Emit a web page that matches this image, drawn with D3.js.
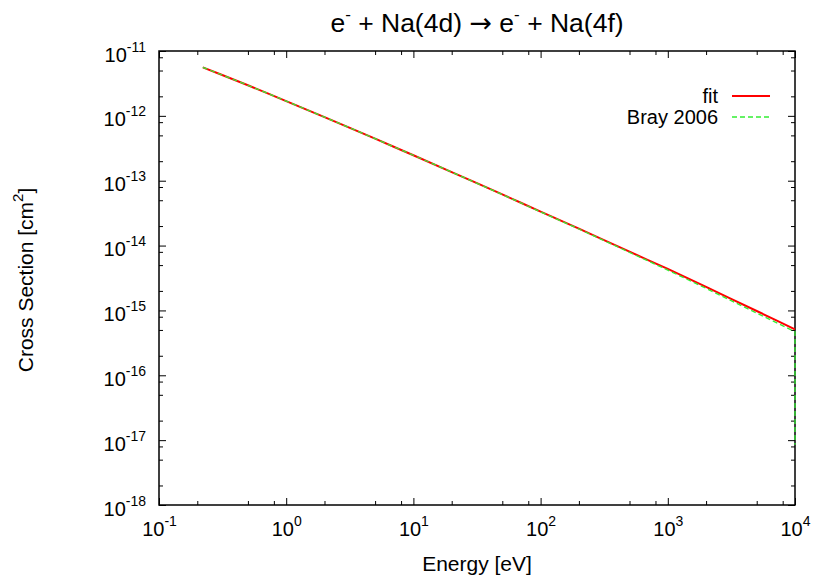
<!DOCTYPE html>
<html>
<head>
<meta charset="utf-8">
<script src="https://cdn.jsdelivr.net/npm/d3@7/dist/d3.min.js"></script>
<style>
  html, body { margin: 0; padding: 0; background: #fff; }
  svg { display: block; }
  text { font-family: "Liberation Sans", Arial, Helvetica, sans-serif; fill: #000; }
</style>
</head>
<body>
<svg id="chart" width="814" height="578"></svg>
<script>
// Electron-impact excitation Na(4d) -> Na(4f): analytic fit vs. Bray 2006 data
const fitEnergy = [0.221, 0.3, 0.5, 0.7, 1, 2, 3, 5, 7, 10, 20, 30, 50, 70, 100,
                   200, 300, 500, 700, 1000, 2000, 3000, 5000, 7000, 10000];
const fitCS = [5.6e-12, 4.42e-12, 2.96e-12, 2.26e-12, 1.69e-12, 9.58e-13, 6.83e-13,
               4.45e-13, 3.34e-13, 2.47e-13, 1.36e-13, 9.57e-14, 6.14e-14, 4.57e-14,
               3.34e-14, 1.82e-14, 1.27e-14, 8.05e-15, 5.98e-15, 4.36e-15, 2.31e-15,
               1.58e-15, 9.8e-16, 7.15e-16, 5.1e-16];

const brayEnergy = [0.221, 0.3, 0.5, 0.7, 1, 2, 3, 5, 7, 10, 20, 30, 50, 70, 100,
                    200, 300, 500, 700, 1000, 2000, 3000, 5000, 7000, 10000, 10000];
const brayCS = [5.6e-12, 4.42e-12, 2.96e-12, 2.26e-12, 1.69e-12, 9.58e-13, 6.83e-13,
                4.45e-13, 3.34e-13, 2.47e-13, 1.36e-13, 9.55e-14, 6.12e-14, 4.54e-14,
                3.31e-14, 1.80e-14, 1.25e-14, 7.85e-15, 5.80e-15, 4.18e-15, 2.19e-15,
                1.48e-15, 9.1e-16, 6.6e-16, 4.7e-16, 8.5e-18];

const xDecades = [-1, 0, 1, 2, 3, 4];
const yDecades = [-18, -17, -16, -15, -14, -13, -12, -11];
const minorSteps = [2, 5, 8];

const xLabel = "Energy [eV]";
const yLabel = "Cross Section [cm";

const svg = d3.select("#chart");
const margin = { left: 159, right: 795, top: 51, bottom: 505 };

const x = d3.scaleLog().domain([1e-1, 1e4]).range([margin.left, margin.right]);
const y = d3.scaleLog().domain([1e-18, 1e-11]).range([margin.bottom, margin.top]);

const xMajor = xDecades.map(d => Math.pow(10, d));
const yMajor = yDecades.map(d => Math.pow(10, d));
const minorOf = decs => decs.slice(0, -1).flatMap(d => minorSteps.map(m => m * Math.pow(10, d)));
const xMinor = minorOf(xDecades);
const yMinor = minorOf(yDecades);

function styleTicks(g) {
  g.select(".domain").remove();
  g.selectAll(".tick line").attr("stroke", "#000").attr("stroke-width", 1);
}

// major + minor ticks on all four sides, all pointing inward
const axes = svg.append("g");
const bottomMajor = axes.append("g").attr("transform", `translate(0,${margin.bottom})`)
  .call(d3.axisBottom(x).tickValues(xMajor).tickSize(-7).tickSizeOuter(0));
axes.append("g").attr("transform", `translate(0,${margin.bottom})`)
  .call(d3.axisBottom(x).tickValues(xMinor).tickSize(-4).tickFormat("")).call(styleTicks);
axes.append("g").attr("transform", `translate(0,${margin.top})`)
  .call(d3.axisTop(x).tickValues(xMajor).tickSize(-7).tickFormat("")).call(styleTicks);
axes.append("g").attr("transform", `translate(0,${margin.top})`)
  .call(d3.axisTop(x).tickValues(xMinor).tickSize(-4).tickFormat("")).call(styleTicks);

const leftMajor = axes.append("g").attr("transform", `translate(${margin.left},0)`)
  .call(d3.axisLeft(y).tickValues(yMajor).tickSize(-7).tickSizeOuter(0));
axes.append("g").attr("transform", `translate(${margin.left},0)`)
  .call(d3.axisLeft(y).tickValues(yMinor).tickSize(-4).tickFormat("")).call(styleTicks);
axes.append("g").attr("transform", `translate(${margin.right},0)`)
  .call(d3.axisRight(y).tickValues(yMajor).tickSize(-7).tickFormat("")).call(styleTicks);
axes.append("g").attr("transform", `translate(${margin.right},0)`)
  .call(d3.axisRight(y).tickValues(yMinor).tickSize(-4).tickFormat("")).call(styleTicks);

bottomMajor.call(styleTicks);
leftMajor.call(styleTicks);

// power-of-ten tick labels with superscript exponents
function powerLabel(textSel, exps) {
  textSel.each(function (d, i) {
    const t = d3.select(this).text(null)
      .attr("font-size", 20).attr("fill", "#000");
    t.append("tspan").text("10");
    t.append("tspan").attr("font-size", 14).attr("dy", -10).text(exps[i]);
  });
}
bottomMajor.selectAll(".tick text")
  .attr("y", 31).attr("dy", null).attr("text-anchor", "middle")
  .call(powerLabel, xDecades);
leftMajor.selectAll(".tick text")
  .attr("x", -13).attr("y", 10).attr("dy", null).attr("text-anchor", "end")
  .call(powerLabel, yDecades);

// plot border
svg.append("rect")
  .attr("x", margin.left).attr("y", margin.top)
  .attr("width", margin.right - margin.left).attr("height", margin.bottom - margin.top)
  .attr("fill", "none").attr("stroke", "#000").attr("stroke-width", 1.5);

// curves
svg.append("clipPath").attr("id", "plotClip").append("rect")
  .attr("x", margin.left - 1).attr("y", margin.top - 1)
  .attr("width", margin.right - margin.left + 2).attr("height", margin.bottom - margin.top + 2);

const line = d3.line().x(d => x(d[0])).y(d => y(d[1]));
const plot = svg.append("g").attr("clip-path", "url(#plotClip)");
plot.append("path")
  .datum(d3.zip(fitEnergy, fitCS))
  .attr("d", line).attr("fill", "none")
  .attr("stroke", "#ff0000").attr("stroke-width", 2);
plot.append("path")
  .datum(d3.zip(brayEnergy, brayCS))
  .attr("d", line).attr("fill", "none")
  .attr("stroke", "#33ee33").attr("stroke-width", 1.3)
  .attr("stroke-dasharray", "5,3");

// legend
const legend = svg.append("g");
const legendItems = [
  { label: "fit", color: "#ff0000", width: 2, dash: null, y: 96 },
  { label: "Bray 2006", color: "#33ee33", width: 1.3, dash: "5,3", y: 117 }
];
legendItems.forEach(item => {
  legend.append("text").attr("x", 718).attr("y", item.y + 7)
    .attr("text-anchor", "end").attr("font-size", 20).text(item.label);
  legend.append("line").attr("x1", 732).attr("x2", 770)
    .attr("y1", item.y).attr("y2", item.y)
    .attr("stroke", item.color).attr("stroke-width", item.width)
    .attr("stroke-dasharray", item.dash);
});

// title: e^- + Na(4d) -> e^- + Na(4f)
const title = svg.append("text").attr("x", 477).attr("y", 32)
  .attr("text-anchor", "middle").attr("font-size", 26.5);
title.append("tspan").text("e");
title.append("tspan").attr("font-size", 17).attr("dy", -12).text("-");
title.append("tspan").attr("dy", 12).text(" + Na(4d) ");
title.append("tspan").attr("font-family", "DejaVu Sans").attr("font-size", 27).text("\u2192");
title.append("tspan").text(" e");
title.append("tspan").attr("font-size", 17).attr("dy", -12).text("-");
title.append("tspan").attr("dy", 12).text(" + Na(4f)");

// axis titles
svg.append("text").attr("x", 477).attr("y", 571)
  .attr("text-anchor", "middle").attr("font-size", 21).text(xLabel);
const yl = svg.append("text").attr("transform", "translate(33,280) rotate(-90)")
  .attr("text-anchor", "middle").attr("font-size", 21);
yl.append("tspan").text(yLabel);
yl.append("tspan").attr("font-size", 15).attr("dy", -10).text("2");
yl.append("tspan").attr("dy", 10).text("]");
</script>
</body>
</html>
